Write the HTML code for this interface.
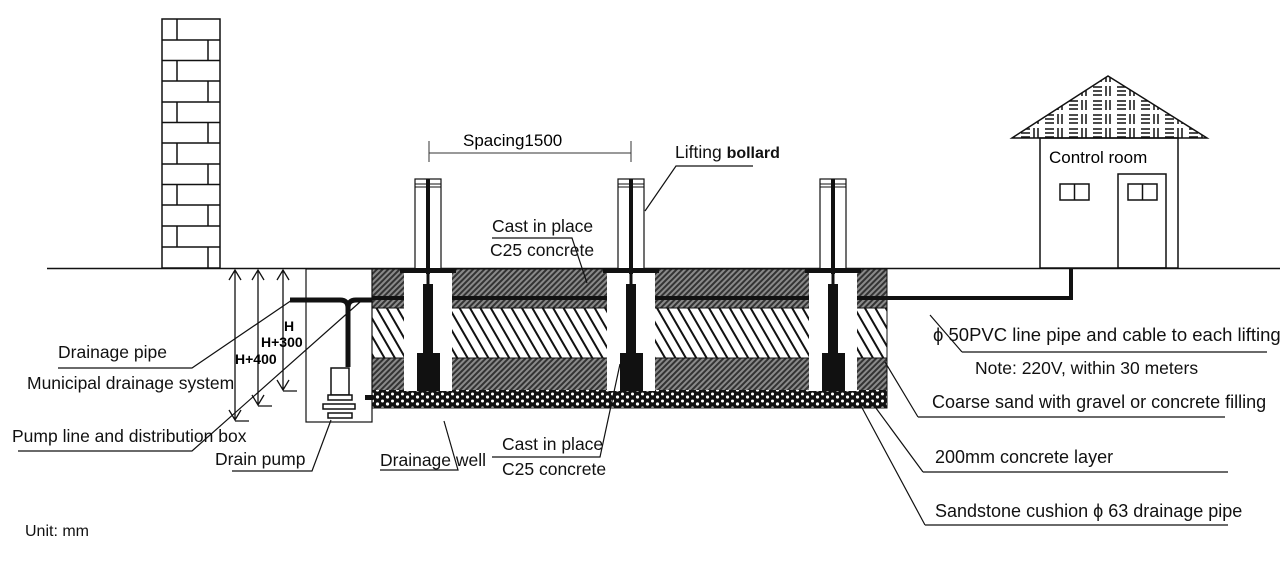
<!DOCTYPE html>
<html><head><meta charset="utf-8"><style>
html,body{margin:0;padding:0;background:#fff;}
svg{display:block;font-family:"Liberation Sans",Arial,sans-serif;}
</style></head><body>
<svg width="1280" height="566" viewBox="0 0 1280 566" xmlns="http://www.w3.org/2000/svg">
<defs>
<pattern id="dk" width="4" height="4" patternUnits="userSpaceOnUse" patternTransform="rotate(45)">
<rect width="4" height="4" fill="#8a8a8a"/><rect width="2" height="4" fill="#333"/>
</pattern>
<pattern id="hd" width="9" height="9" patternUnits="userSpaceOnUse" patternTransform="rotate(-30)">
<rect width="9" height="9" fill="#fff"/><rect width="2" height="9" fill="#111"/>
</pattern>
<pattern id="gr" width="10" height="7" patternUnits="userSpaceOnUse">
<rect width="10" height="7" fill="#111"/><circle cx="2.5" cy="2" r="1.5" fill="#fff"/><circle cx="7.5" cy="5" r="1.6" fill="#fff"/>
</pattern>
<pattern id="rf" width="24" height="14" patternUnits="userSpaceOnUse">
<rect width="24" height="14" fill="#fff"/>
<path d="M2 2v10M6 2v10M13 3h9M13 7h9M13 11h9" stroke="#111" stroke-width="1.5"/>
</pattern>
<g id="b">
<rect x="-24" y="3" width="48" height="119" fill="#fff"/>
<rect x="-13" y="-90" width="26" height="90" fill="#fff" stroke="#111" stroke-width="1.2"/>
<path d="M-13 -85h26M-13 -82h26" stroke="#111"/>
<rect x="-28" y="-1" width="56" height="5" fill="#111"/>
<rect x="-2" y="-90" width="4" height="95" fill="#111"/>
<rect x="-1.5" y="4" width="3" height="12" fill="#111"/>
<rect x="-5" y="15" width="10" height="70" fill="#111"/>
<rect x="-11" y="84" width="23" height="38" fill="#111"/>
</g>
</defs>

<line x1="47" y1="268.5" x2="1280" y2="268.5" stroke="#111" stroke-width="1.5"/>

<g stroke="#111" stroke-width="1.5" fill="none">
<rect x="162" y="19" width="58" height="249"/>
<path d="M162 40h58M162 60.5h58M162 81h58M162 102h58M162 122.5h58M162 143h58M162 164h58M162 184.5h58M162 205h58M162 226h58M162 247h58"/>
<path d="M177 19v21M208 40v20.5M177 60.5v20.5M208 81v21M177 102v20.5M208 122.5v20.5M177 143v21M208 164v20.5M177 184.5v20.5M208 205v21M177 226v21M208 247v21"/>
</g>

<polygon points="1012,138 1108,76 1207,138" fill="url(#rf)" stroke="#111" stroke-width="1.5"/>
<g stroke="#111" stroke-width="1.5" fill="none">
<rect x="1040" y="138" width="138" height="130"/>
<rect x="1118" y="174" width="48" height="94"/>
<rect x="1060" y="184" width="29" height="16"/><line x1="1074.5" y1="184" x2="1074.5" y2="200"/>
<rect x="1128" y="184" width="29" height="16"/><line x1="1142.5" y1="184" x2="1142.5" y2="200"/>
</g>
<text x="1049" y="163" font-size="17">Control room</text>
<path d="M887 298H1071V268" fill="none" stroke="#111" stroke-width="4"/>

<rect x="372" y="269" width="515" height="39" fill="url(#dk)"/>
<rect x="372" y="308" width="515" height="50" fill="url(#hd)"/>
<rect x="372" y="358" width="515" height="32" fill="url(#dk)"/>
<rect x="372" y="390" width="515" height="18" fill="url(#gr)"/>
<line x1="372" y1="308" x2="887" y2="308" stroke="#111"/>
<line x1="372" y1="358" x2="887" y2="358" stroke="#111"/>
<rect x="372" y="269" width="515" height="139" fill="none" stroke="#111" stroke-width="1"/>
<line x1="372" y1="298" x2="887" y2="298" stroke="#111" stroke-width="4"/>

<use href="#b" transform="translate(428,269)"/>
<use href="#b" transform="translate(631,269)"/>
<use href="#b" transform="translate(833,269)"/>

<rect x="306" y="269" width="66" height="153" fill="#fff" stroke="#111" stroke-width="1.2"/>
<path d="M290 300H340Q348 300 348 308V367M372 300H356Q348 300 348 308" fill="none" stroke="#111" stroke-width="5"/>
<rect x="331" y="368" width="18" height="27" fill="#fff" stroke="#111" stroke-width="1.5"/>
<rect x="328" y="395" width="24" height="5" fill="#fff" stroke="#111" stroke-width="1.5"/>
<rect x="323" y="404" width="32" height="5" fill="#fff" stroke="#111" stroke-width="1.5"/>
<rect x="328" y="413" width="24" height="5" fill="#fff" stroke="#111" stroke-width="1.5"/>
<rect x="365" y="395" width="8" height="5" fill="#111"/>

<g stroke="#111" stroke-width="1.3" fill="none">
<path d="M235 271V420M229 280l6-10 6 10M229 410l6 10 6-10M235 421h14"/>
<path d="M258 271V405M252 280l6-10 6 10M252 395l6 10 6-10M258 406h14"/>
<path d="M283 271V390M277 280l6-10 6 10M277 380l6 10 6-10M283 391h14"/>
</g>
<g font-size="14" font-weight="bold">
<text x="284" y="331">H</text><text x="261" y="347">H+300</text><text x="235" y="364">H+400</text>
</g>

<g stroke="#333" stroke-width="1"><path d="M429 153H631M429 141v21M631 141v21"/></g>
<text x="463" y="146" font-size="17">Spacing1500</text>

<g stroke="#111" stroke-width="1.2" fill="none">
<path d="M753 166H676L645 211"/>
<path d="M492 238H572L587 283"/>
<path d="M58 368H192L292 300"/>
<path d="M18 451H192L360 302"/>
<path d="M232 471H312L331 420"/>
<path d="M380 470H458L444 421"/>
<path d="M492 457H600L620 364"/>
<path d="M962 352H1267M962 352L930 315"/>
<path d="M918 417H1225M918 417L885 362"/>
<path d="M923 472H1228M923 472L870 400"/>
<path d="M925 525H1228M925 525L860 404"/>
</g>

<g font-size="17.5" fill="#111">
<text x="675" y="158">Lifting <tspan font-weight="bold" font-size="16">bollard</tspan></text>
<text x="492" y="232">Cast in place</text>
<text x="490" y="256">C25 concrete</text>
<text x="58" y="358">Drainage pipe</text>
<text x="27" y="389">Municipal drainage system</text>
<text x="12" y="442">Pump line and distribution box</text>
<text x="215" y="465">Drain pump</text>
<text x="380" y="466">Drainage well</text>
<text x="502" y="450">Cast in place</text>
<text x="502" y="475">C25 concrete</text>
<text x="933" y="341" font-size="18.5">ϕ 50PVC line pipe and cable to each lifting</text>
<text x="975" y="374">Note: 220V, within 30 meters</text>
<text x="932" y="408" font-size="18">Coarse sand with gravel or concrete filling</text>
<text x="935" y="463" font-size="18">200mm concrete layer</text>
<text x="935" y="517" font-size="18">Sandstone cushion ϕ 63 drainage pipe</text>
<text x="25" y="536" font-size="16">Unit: mm</text>
</g>
</svg>
</body></html>
